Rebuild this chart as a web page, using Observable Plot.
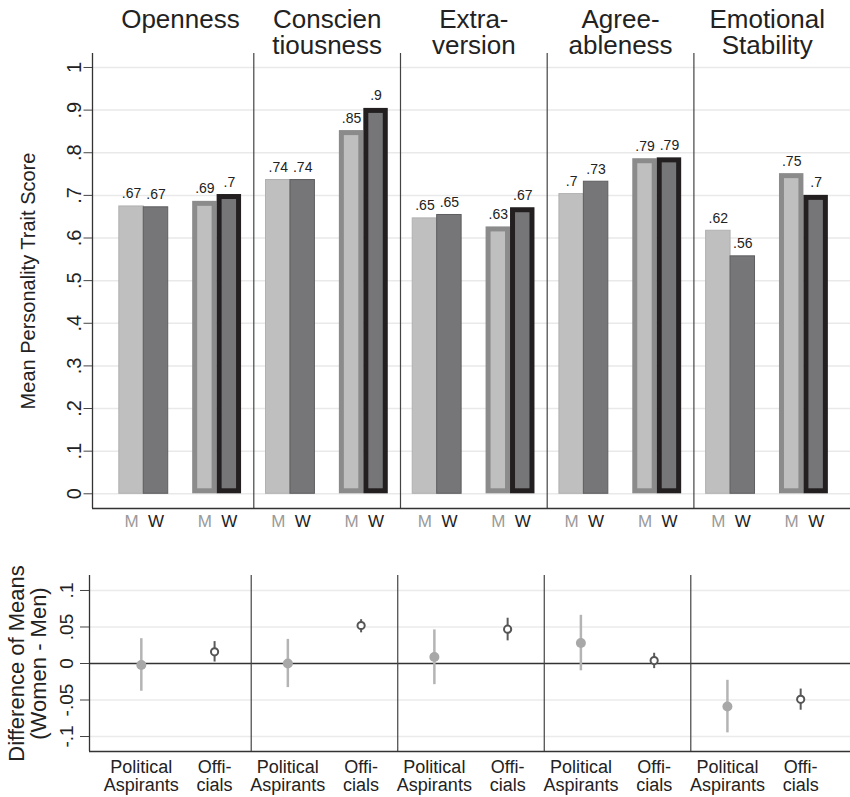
<!DOCTYPE html>
<html><head><meta charset="utf-8">
<script src="https://cdn.jsdelivr.net/npm/d3@7"></script>
<script src="https://cdn.jsdelivr.net/npm/@observablehq/plot@0.6"></script>
<style>
body{margin:0;background:#fff;}
#chart{width:850px;height:797px;font-family:"Liberation Sans",Arial,Helvetica,sans-serif;}
#chart svg{display:block;font-variant-ligatures:none;}
#topsvg g[aria-label="y-axis tick label"], #topsvg g[aria-label="y-axis tick label"] text{font-size:20px;}
#botsvg g[aria-label="y-axis tick label"], #botsvg g[aria-label="y-axis tick label"] text{font-size:19px;}
</style></head><body><div id="chart"></div>
<script>
// ---- data ----
const traits = ["Openness", "Conscientiousness", "Extraversion", "Agreeableness", "Emotional Stability"];
const traitTitles = ["Openness", "Conscien\ntiousness", "Extra-\nversion", "Agree-\nableness", "Emotional\nStability"];
const aspMen   = [0.674, 0.736, 0.646, 0.703, 0.617];
const aspWomen = [0.672, 0.736, 0.654, 0.732, 0.557];
const offMen   = [0.686, 0.852, 0.626, 0.786, 0.751];
const offWomen = [0.702, 0.904, 0.671, 0.788, 0.700];
const sexLabels = ["M", "W"];
const groupLabels = ["Political\nAspirants", "Offi-\ncials"];
const diffAsp   = [-0.002, 0.000, 0.009, 0.028, -0.059];
const diffAspLo = [-0.038, -0.033, -0.029, -0.010, -0.095];
const diffAspHi = [0.034, 0.033, 0.046, 0.066, -0.023];
const diffOff   = [0.016, 0.052, 0.047, 0.004, -0.049];
const diffOffLo = [0.002, 0.042, 0.031, -0.007, -0.064];
const diffOffHi = [0.030, 0.060, 0.062, 0.014, -0.035];
const topTicks = [0, 0.1, 0.2, 0.3, 0.4, 0.5, 0.6, 0.7, 0.8, 0.9, 1];
const bottomTicks = [-0.1, -0.05, 0, 0.05, 0.1];
const yTitleTop = "Mean Personality Trait Score";
const yTitleBottom = "Difference of Means\n(Women - Men)";

// ---- helpers ----
const fmt = v => {
  const s = (Math.round(v * 100) / 100).toString();
  return s.replace(/^0\./, ".").replace(/^-0\./, "-.");
};
const light = "#bfbfbf", dark = "#767679", mBorder = "#8b8b8b", wBorder = "#231f20";
const font = {fontFamily: '"Liberation Sans", Arial, Helvetica, sans-serif', background: "white", color: "#222", overflow: "visible"};
const seps = traits.slice(1).map((t, i) => 6 * (i + 1));

const bars = traits.flatMap((t, i) => [
  {trait: t, group: "asp", sex: "M", value: aspMen[i], x1: 6 * i + 0.5},
  {trait: t, group: "asp", sex: "W", value: aspWomen[i], x1: 6 * i + 1.5},
  {trait: t, group: "off", sex: "M", value: offMen[i], x1: 6 * i + 3.5},
  {trait: t, group: "off", sex: "W", value: offWomen[i], x1: 6 * i + 4.5}
]).map(d => ({...d, x2: d.x1 + 1, xc: d.x1 + 0.5}));
const asp = bars.filter(d => d.group === "asp");
const off = bars.filter(d => d.group === "off");
const sexRows = bars.map(d => ({x: d.xc, label: d.sex === "M" ? sexLabels[0] : sexLabels[1]}));

const topX = [-0.597, 30.405], topY = [-0.0345, 1.0328];
const topChart = Plot.plot({
  width: 850, height: 545,
  marginLeft: 92, marginRight: 0, marginTop: 53, marginBottom: 37,
  x: {domain: topX, axis: null},
  y: {domain: topY, axis: null},
  style: font,
  marks: [
    Plot.gridY(topTicks, {stroke: "#e9e9e9", strokeOpacity: 1, strokeWidth: 1.5}),
    Plot.rect(asp, {x1: "x1", x2: "x2", y1: 0, y2: "value",
      fill: d => d.sex === "M" ? light : dark,
      stroke: d => d.sex === "M" ? "#b0b0b0" : "#5e5e61", strokeWidth: 1}),
    Plot.rect(off, {x1: "x1", x2: "x2", y1: 0, y2: "value",
      fill: d => d.sex === "M" ? mBorder : wBorder}),
    Plot.rect(off, {x1: "x1", x2: "x2", y1: 0, y2: "value", inset: 5,
      fill: d => d.sex === "M" ? light : dark}),
    Plot.text(bars, {x: "xc", y: "value", text: d => fmt(d.value), lineAnchor: "bottom", dy: -8, fontSize: 14, fill: "#222"}),
    Plot.ruleX(seps, {stroke: "#444", strokeWidth: 1.2}),
    Plot.ruleX([topX[0]], {stroke: "#333", strokeWidth: 1.3}),
    Plot.ruleY([topY[0]], {stroke: "#333", strokeWidth: 1.3}),
    Plot.axisY(topTicks, {tickFormat: fmt, tickRotate: -90, tickSize: 8.5, tickPadding: 3, fontSize: 20, stroke: "#444", fill: "#222", label: null}),
    Plot.text(sexRows, {x: "x", text: "label", frameAnchor: "bottom", lineAnchor: "top", dy: 6, fontSize: 17,
      fill: d => d.label === "M" ? "#9a9a9a" : "#222"}),
    Plot.text(traitTitles, {x: (d, i) => 6 * i + 3, text: d => d, frameAnchor: "top", lineAnchor: "top", dy: -44.5, fontSize: 26, lineHeight: 1.01, fill: "#222"}),
    Plot.text([yTitleTop], {frameAnchor: "left", textAnchor: "middle", rotate: -90, dx: -64.4, fontSize: 20, fill: "#222"})
  ]
});
topChart.id = "topsvg";

const points = traits.flatMap((t, i) => [
  {trait: t, g: "asp", x: 6 * i + 1.5, v: diffAsp[i], lo: diffAspLo[i], hi: diffAspHi[i], label: groupLabels[0]},
  {trait: t, g: "off", x: 6 * i + 4.5, v: diffOff[i], lo: diffOffLo[i], hi: diffOffHi[i], label: groupLabels[1]}
]);
const pA = points.filter(d => d.g === "asp"), pO = points.filter(d => d.g === "off");
const botX = [-0.622, 30.54], botY = [-0.1205, 0.1205];
const bottomChart = Plot.plot({
  width: 850, height: 252,
  marginLeft: 89, marginRight: 0, marginTop: 30, marginBottom: 46,
  x: {domain: botX, axis: null},
  y: {domain: botY, axis: null},
  style: font,
  marks: [
    Plot.gridY(bottomTicks.filter(t => t !== 0), {stroke: "#ebebeb", strokeOpacity: 1, strokeWidth: 1.5}),
    Plot.ruleY([0], {stroke: "#333", strokeWidth: 1.5}),
    Plot.ruleX(seps, {stroke: "#444", strokeWidth: 1.2}),
    Plot.ruleX([botX[0]], {stroke: "#333", strokeWidth: 1.3}),
    Plot.ruleY([botY[0]], {stroke: "#333", strokeWidth: 1.3}),
    Plot.ruleX(pA, {x: "x", y1: "lo", y2: "hi", stroke: "#b4b4b4", strokeWidth: 2.5}),
    Plot.dot(pA, {x: "x", y: "v", r: 5, fill: "#a8a8a8", stroke: "none"}),
    Plot.ruleX(pO, {x: "x", y1: "lo", y2: "hi", stroke: "#5a5a5a", strokeWidth: 2}),
    Plot.dot(pO, {x: "x", y: "v", r: 3.6, fill: "white", stroke: "#555", strokeWidth: 2}),
    Plot.axisY(bottomTicks, {tickFormat: fmt, tickRotate: -90, tickSize: 9, tickPadding: 8, fontSize: 19, stroke: "#444", fill: "#222", label: null}),
    Plot.text(points, {x: "x", text: "label", frameAnchor: "bottom", lineAnchor: "top", dy: 9, fontSize: 18, lineHeight: 1, fill: "#222"}),
    Plot.text([yTitleBottom], {frameAnchor: "left", textAnchor: "middle", rotate: -90, dx: -62, fontSize: 22, lineHeight: 1, fill: "#222"})
  ]
});
bottomChart.id = "botsvg";

const root = document.getElementById("chart");
root.appendChild(topChart);
root.appendChild(bottomChart);
</script></body></html>
